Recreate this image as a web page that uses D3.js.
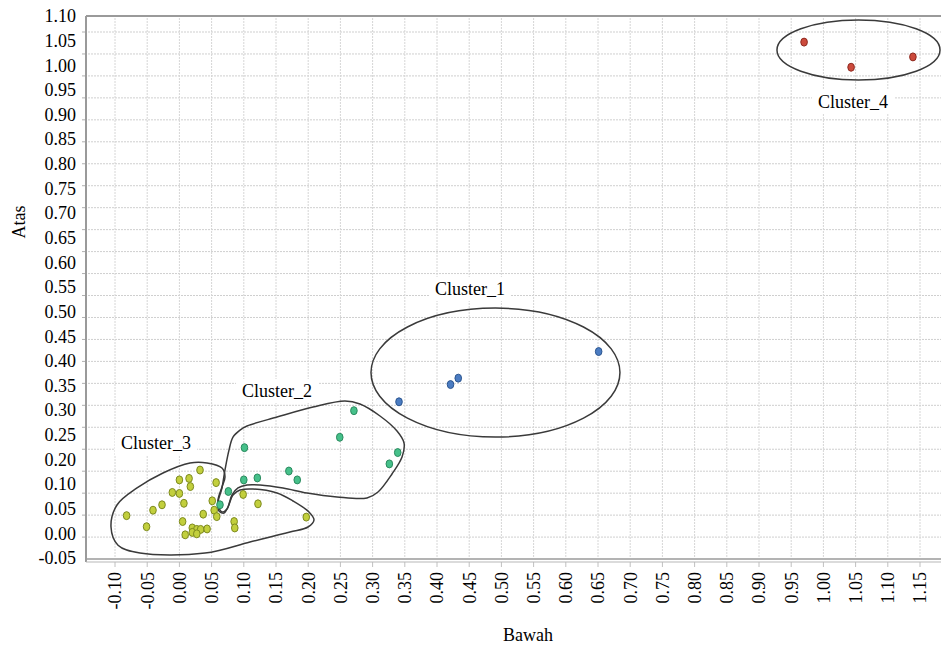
<!DOCTYPE html>
<html>
<head>
<meta charset="utf-8">
<script src="https://cdn.jsdelivr.net/npm/d3@7"></script>
<style>
  html, body { margin: 0; padding: 0; background: #fff; }
  svg { display: block; }
  text { font-family: "Liberation Serif", "Times New Roman", serif; fill: #000; }
</style>
</head>
<body>
<script>
// ---------------- DATA ----------------
const xTickLabels = ["-0.10","-0.05","0.00","0.05","0.10","0.15","0.20","0.25","0.30","0.35","0.40","0.45","0.50","0.55","0.60","0.65","0.70","0.75","0.80","0.85","0.90","0.95","1.00","1.05","1.10","1.15"];
const yTickLabels = ["1.10","1.05","1.00","0.95","0.90","0.85","0.80","0.75","0.70","0.65","0.60","0.55","0.50","0.45","0.40","0.35","0.30","0.25","0.20","0.10","0.05","0.00","-0.05"];

const xTitle = "Bawah";
const yTitle = "Atas";

const clusterNames = ["Cluster_1","Cluster_2","Cluster_3","Cluster_4"];

// Cluster_1 (blue)
const c1X = [0.651, 0.433, 0.421, 0.341];
const c1Y = [0.419, 0.365, 0.352, 0.317];
// Cluster_2 (green)
const c2X = [0.271, 0.249, 0.339, 0.326, 0.101, 0.170, 0.183, 0.121, 0.100, 0.076, 0.063];
const c2Y = [0.299, 0.245, 0.214, 0.182, 0.224, 0.153, 0.117, 0.125, 0.117, 0.085, 0.058];
// Cluster_3 (yellow-green)
const c3X = [0.032, 0.000, 0.015, 0.017, 0.057, -0.011, 0.000, 0.099, 0.051, 0.007, -0.027, -0.041, -0.082, 0.054, 0.122, 0.037, 0.058, 0.197, 0.005, 0.085, 0.086, -0.051, 0.020, 0.027, 0.033, 0.043, 0.020, 0.027, 0.009];
const c3Y = [0.157, 0.117, 0.123, 0.095, 0.106, 0.083, 0.081, 0.079, 0.066, 0.061, 0.058, 0.047, 0.036, 0.047, 0.060, 0.039, 0.034, 0.033, 0.024, 0.024, 0.011, 0.0135, 0.011, 0.008, 0.008, 0.009, 0.002, -0.001, -0.003];
// Cluster_4 (red)
const c4X = [0.970, 1.043, 1.139];
const c4Y = [1.047, 0.996, 1.017];

// Cluster boundaries (data units)
const c1Ellipse = { cx: 0.4908, cy: 0.3763, rx: 0.1933, ry: 0.1309 };
const c4Ellipse = { cx: 1.0545, cy: 1.031, rx: 0.1266, ry: 0.0609 };
const c2OutlineX = [0.0941,0.105,0.1516,0.2075,0.2571,0.2804,0.3115,0.3379,0.3488,0.3457,0.3301,0.3084,0.2913,0.2447,0.1981,0.1609,0.1252,0.105,0.091,0.0817,0.0739,0.0661,0.0599,0.0661,0.0708,0.077,0.0832];
const c2OutlineY = [0.2597,0.2679,0.2861,0.3064,0.3186,0.3125,0.2882,0.2577,0.2334,0.2049,0.1411,0.084,0.0718,0.0738,0.0819,0.0921,0.0982,0.0982,0.0921,0.0779,0.0495,0.0434,0.0596,0.0921,0.1574,0.219,0.2454];
const c3OutlineX = [-0.0953,-0.0612,0.0398,0.1096,0.1717,0.1997,0.209,0.2012,0.1764,0.1516,0.1143,0.0941,0.0832,0.0755,0.0693,0.0615,0.0599,0.0661,0.0708,0.0661,0.0429,0.0165,-0.0255,-0.0658,-0.0969,-0.1062];
const c3OutlineY = [-0.024,-0.040,-0.040,-0.0175,0.0028,0.0129,0.0271,0.0434,0.0657,0.0819,0.090,0.088,0.0779,0.0535,0.0413,0.0454,0.0677,0.0941,0.129,0.1655,0.1858,0.1858,0.1452,0.0921,0.0576,0.0129];

// Cluster label anchors (data units)
const labelX = [0.4513, 0.1516, -0.0363, 1.046];
const labelY = [0.5337, 0.3267, 0.2211, 0.9133];

// ---------------- LAYOUT ----------------
const W = 941, H = 645;
const plotLeft = 86, plotTop = 16, plotBottom = 559, plotRight = 950;
const yLabTop = 16, yLabStep = (558 - 16) / (yTickLabels.length - 1);

const svg = d3.select("body").append("svg").attr("width", W).attr("height", H);
svg.append("rect").attr("width", W).attr("height", H).attr("fill", "#fff");

const xTickValues = xTickLabels.map(Number);
const yTickValues = yTickLabels.map(Number);

const x = d3.scaleLinear().domain([-0.10, 1.15]).range([115, 920]);
// polylinear scale: each printed tick value sits at an evenly spaced position
const y = d3.scaleLinear().domain(yTickValues).range(yTickValues.map((d, i) => yLabTop + i * yLabStep));

// ---------------- GRID ----------------
const grid = svg.append("g");
// horizontal grid lines (underlying plot grid)
const hGrid = d3.range(24).map(i => 32 + i * 21.96);
grid.selectAll("line.h").data(hGrid).join("line")
  .attr("x1", plotLeft + 2).attr("x2", W).attr("y1", d => d).attr("y2", d => d)
  .attr("stroke", "#cfcfcf").attr("stroke-width", 1).attr("stroke-dasharray", "2,1");
grid.selectAll("line.v").data(xTickValues).join("line")
  .attr("x1", d => x(d)).attr("x2", d => x(d)).attr("y1", plotTop + 2).attr("y2", plotBottom - 1)
  .attr("stroke", "#d6d6d6").attr("stroke-width", 1).attr("stroke-dasharray", "2,1");

// small tick marks
grid.selectAll("line.lt").data(hGrid).join("line")
  .attr("x1", plotLeft - 4).attr("x2", plotLeft).attr("y1", d => d).attr("y2", d => d)
  .attr("stroke", "#b0b0b0");
grid.selectAll("line.bt").data(xTickValues).join("line")
  .attr("x1", d => x(d)).attr("x2", d => x(d)).attr("y1", plotBottom + 3).attr("y2", plotBottom + 8)
  .attr("stroke", "#c0c0c0");

// frame
svg.append("line").attr("x1", plotLeft).attr("x2", plotLeft).attr("y1", plotTop).attr("y2", plotBottom + 3)
  .attr("stroke", "#9a9a9a").attr("stroke-width", 2);
svg.append("line").attr("x1", plotLeft).attr("x2", W).attr("y1", plotTop).attr("y2", plotTop)
  .attr("stroke", "#9a9a9a").attr("stroke-width", 2);
svg.append("line").attr("x1", plotLeft).attr("x2", W).attr("y1", plotBottom).attr("y2", plotBottom)
  .attr("stroke", "#9a9a9a").attr("stroke-width", 1.5);
svg.append("line").attr("x1", plotLeft).attr("x2", W).attr("y1", plotBottom + 3).attr("y2", plotBottom + 3)
  .attr("stroke", "#b8b8b8").attr("stroke-width", 1.2);

// ---------------- AXES ----------------
const yAxis = d3.axisLeft(y).tickValues(yTickValues).tickSize(0).tickPadding(10)
  .tickFormat((d, i) => yTickLabels[i]);
const gy = svg.append("g").attr("transform", `translate(${plotLeft},0)`).call(yAxis);
gy.select(".domain").remove();
gy.selectAll("text").style("font-family", '"Liberation Serif", serif').style("font-size", "18px").attr("fill", "#000");

const xAxis = d3.axisBottom(x).tickValues(xTickValues).tickSize(0)
  .tickFormat((d, i) => xTickLabels[i]);
const gx = svg.append("g").attr("transform", `translate(0,${plotBottom})`).call(xAxis);
gx.select(".domain").remove();
gx.selectAll("text")
  .attr("x", 0).attr("y", 0).attr("dy", "0.33em")
  .attr("transform", "translate(0,13) rotate(-90)")
  .attr("text-anchor", "end")
  .style("font-family", '"Liberation Serif", serif').style("font-size", "18px").attr("fill", "#000");

svg.append("text").text(xTitle).attr("x", 528).attr("y", 641).attr("text-anchor", "middle")
  .style("font-size", "18px");
svg.append("text").text(yTitle).attr("transform", "translate(25,222) rotate(-90)").attr("text-anchor", "middle")
  .style("font-size", "18px");

// ---------------- CLUSTER SHAPES ----------------
const shapes = svg.append("g").attr("fill", "none").attr("stroke", "#3a3a3a").attr("stroke-width", 1.5);
function drawEllipse(e) {
  shapes.append("ellipse")
    .attr("cx", x(e.cx)).attr("cy", y(e.cy))
    .attr("rx", x(e.cx + e.rx) - x(e.cx)).attr("ry", y(e.cy - e.ry) - y(e.cy));
}
drawEllipse(c1Ellipse);
drawEllipse(c4Ellipse);
const outline = d3.line().x(d => x(d[0])).y(d => y(d[1])).curve(d3.curveCatmullRomClosed.alpha(0.5));
shapes.append("path").attr("d", outline(c3OutlineX.map((v, i) => [v, c3OutlineY[i]])));
shapes.append("path").attr("d", outline(c2OutlineX.map((v, i) => [v, c2OutlineY[i]])));

// ---------------- POINTS ----------------
const series = [
  { xs: c1X, ys: c1Y, fill: "#4b7cc2", stroke: "#2c5690" },
  { xs: c2X, ys: c2Y, fill: "#46c08a", stroke: "#2a8a5e" },
  { xs: c3X, ys: c3Y, fill: "#c2cf3d", stroke: "#7d8a1f" },
  { xs: c4X, ys: c4Y, fill: "#cc4a3c", stroke: "#8e2a20" }
];
series.forEach(s => {
  svg.append("g").selectAll("ellipse").data(s.xs.map((v, i) => [v, s.ys[i]])).join("ellipse")
    .attr("cx", d => x(d[0])).attr("cy", d => y(d[1]))
    .attr("rx", 3.3).attr("ry", 4)
    .attr("fill", s.fill).attr("stroke", s.stroke).attr("stroke-width", 1);
});

// ---------------- LABELS ----------------
const labels = svg.append("g");
clusterNames.forEach((name, i) => {
  const g = labels.append("g");
  const t = g.append("text").text(name)
    .attr("x", x(labelX[i])).attr("y", y(labelY[i]))
    .attr("text-anchor", "middle").style("font-size", "18px");
  const bb = t.node().getBBox();
  g.insert("rect", "text").attr("x", bb.x - 6).attr("y", bb.y - 2)
    .attr("width", bb.width + 12).attr("height", bb.height + 4).attr("fill", "#fff");
});
</script>
</body>
</html>
